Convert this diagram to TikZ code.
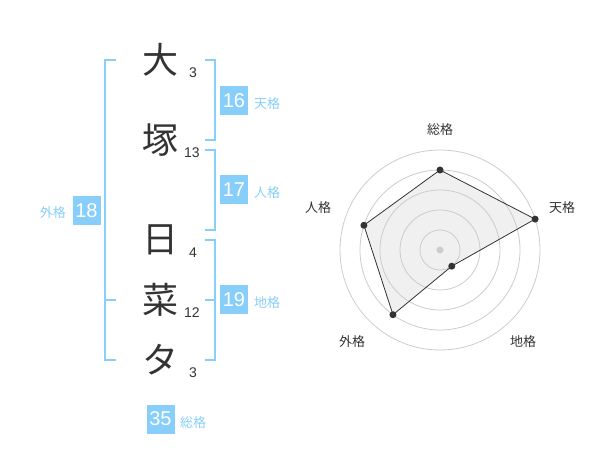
\documentclass[tikz,border=0pt]{standalone}
\usepackage{fontspec}
\usetikzlibrary{calc}
\setmainfont{Liberation Sans}
\newfontfamily\jp{Noto Sans CJK JP}
\definecolor{sky}{RGB}{135,206,250}
\definecolor{ink}{RGB}{51,51,51}
\definecolor{ring}{RGB}{204,204,204}
\definecolor{area}{RGB}{240,240,240}
\tikzset{
  kanji/.style={font=\jp\fontsize{36}{36}\selectfont, text=ink, inner sep=0pt},
  strokes/.style={font=\fontsize{14}{14}\selectfont, text=ink, inner sep=0pt},
  numbox/.style={fill=sky, text=white, font=\fontsize{20}{20}\selectfont, minimum width=28pt, minimum height=29pt, inner sep=0pt},
  kaku/.style={font=\jp\fontsize{13}{13}\selectfont, text=sky, inner sep=0pt},
  bracket/.style={draw=sky, line width=2pt},
  axislabel/.style={font=\jp\fontsize{13}{13}\selectfont, text=ink, inner sep=0pt},
  vdot/.style={circle, fill=ink, minimum size=7pt, inner sep=0pt},
}
\begin{document}
\begin{tikzpicture}[x=1pt,y=-1pt]
\useasboundingbox (0,0) rectangle (600,470);
% characters
\node[kanji] (c1) at (160,60) {大};
\node[kanji] (c2) at (160,140) {塚};
\node[kanji] (c3) at (160,240) {日};
\node[kanji] (c4) at (160,300) {菜};
\node[kanji] (c5) at (160,360) {タ};
\node[strokes] (s1) at (193,73) {3};
\node[strokes] (s2) at (192,153) {13};
\node[strokes] (s3) at (193,253) {4};
\node[strokes] (s4) at (192,313) {12};
\node[strokes] (s5) at (193,373) {3};
% brackets right
\draw[bracket] (205,60) -- (215,60) -- (215,140) -- (205,140);
\draw[bracket] (205,150) -- (215,150) -- (215,230) -- (205,230);
\draw[bracket] (205,240) -- (215,240) -- (215,360) -- (205,360);
\draw[bracket] (205,300) -- (215,300);
% bracket left
\draw[bracket] (116,60) -- (105,60) -- (105,360) -- (116,360);
\draw[bracket] (105,300) -- (116,300);
% boxes
\node[numbox] (ten) at (234,100.5) {16};
\node[kaku, anchor=west] (tenl) at (254,104) {天格};
\node[numbox] (jin) at (234,190) {17};
\node[kaku, anchor=west] (jinl) at (254,193) {人格};
\node[numbox] (chi) at (234,300) {19};
\node[kaku, anchor=west] (chil) at (254,303) {地格};
\node[numbox] (gai) at (86.5,210.5) {18};
\node[kaku, anchor=east] (gail) at (66,213) {外格};
\node[numbox] (sou) at (160.5,419) {35};
\node[kaku, anchor=west] (soul) at (180,423) {総格};
% radar
\coordinate (O) at (440,250);
\coordinate (pS) at ($(O)+(0,-80)$);
\coordinate (pT) at ($(O)+({100*cos(18)},{-100*sin(18)})$);
\coordinate (pC) at ($(O)+({20*cos(-54)},{-20*sin(-54)})$);
\coordinate (pG) at ($(O)+({80*cos(234)},{-80*sin(234)})$);
\coordinate (pJ) at ($(O)+({80*cos(162)},{-80*sin(162)})$);
\fill[area] (pS) -- (pT) -- (pC) -- (pG) -- (pJ) -- cycle;
\foreach \r in {20,40,60,80,100} \draw[ring, line width=0.8pt] (O) circle[radius=\r];
\draw[ink, line width=0.8pt] (pS) -- (pT) -- (pC) -- (pG) -- (pJ) -- cycle;
\node[circle, fill=ring, minimum size=7pt, inner sep=0pt] (cen) at (O) {};
\foreach \p in {pS,pT,pC,pG,pJ} \node[vdot] at (\p) {};
\node[axislabel] (lS) at (440,130) {総格};
\node[axislabel] (lT) at (562,208) {天格};
\node[axislabel] (lJ) at (318,208) {人格};
\node[axislabel] (lG) at (352,342) {外格};
\node[axislabel] (lC) at (523,342) {地格};
\end{tikzpicture}
\end{document}
